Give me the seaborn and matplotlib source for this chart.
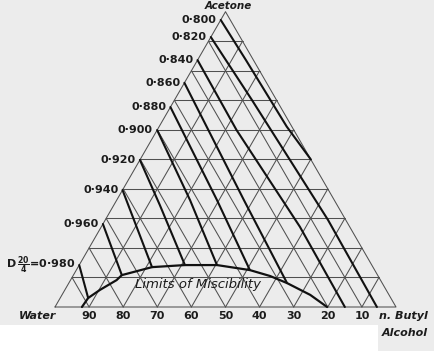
import numpy as np
import pandas as pd
import seaborn as sns
import matplotlib.pyplot as plt
from matplotlib.patches import Rectangle

density_labels = ['0·800', '0·820', '0·840', '0·860', '0·880',
                  '0·900', '0·920', '0·940', '0·960', '0·980']
line_800 = [(97.2, 0.0), (83.6, 14.2), (61.1, 37.4), (50.0, 50.0)]
line_820 = [(91.4, 0.0), (70.1, 22.7), (29.5, 65.3), (0.0, 94.4)]
line_840 = [(83.6, 0.0), (59.9, 23.3), (27.2, 58.2), (0.0, 85.0)]
line_860 = [(75.9, 0.0), (36.2, 37.3), (8.1, 64.0)]
line_880 = [(67.7, 0.0), (36.2, 29.4), (12.5, 50.9)]
line_900 = [(59.9, 0.0), (36.2, 21.5), (14.2, 40.4)]
line_920 = [(49.8, 0.0), (34.5, 13.5), (14.2, 31.0)]
line_940 = [(39.6, 0.0), (13.5, 21.7)]
line_960 = [(28.1, 0.0), (10.8, 14.2)]
line_980 = [(14.2, 0.0), (3.05, 8.2)]
density_lines = [line_800, line_820, line_840, line_860, line_880,
                 line_900, line_920, line_940, line_960, line_980]

# limits of miscibility (acetone %, n-butyl alcohol %)
misc_acetone = [0.0, 3.05, 5.8, 9.1, 10.8, 13.5, 14.2, 14.2, 12.5, 10.5, 8.1, 4.1, 0.0]
misc_butanol = [7.9, 8.2, 10.3, 13.5, 14.2, 21.7, 31.0, 40.4, 50.9, 57.8, 64.0, 72.8, 79.8]

water_ticks = [90, 80, 70, 60, 50, 40, 30, 20, 10]
grid_steps = [10, 20, 30, 40, 50, 60, 70, 80, 90]

H = np.sqrt(3) / 2


def to_xy(acetone, butanol):
    acetone = np.asarray(acetone, dtype=float)
    butanol = np.asarray(butanol, dtype=float)
    return butanol + acetone / 2, acetone * H


sns.set_style("white")
plt.rcParams['font.family'] = ['DejaVu Sans']
paper = '#ececec'
ink = '#1c1c1c'

fig = plt.figure(figsize=(4.35, 3.51), dpi=100, facecolor=paper)
fig.add_artist(Rectangle((0, 0), 378 / 435, 26 / 351, transform=fig.transFigure,
                         facecolor='white', edgecolor='none', zorder=0))
ax = fig.add_axes([0, 0, 1, 1])
ax.patch.set_visible(False)

# triangle grid, 10 % steps
gc, gw = '#505050', 0.75
for k in grid_steps:
    x, y = to_xy([k, k], [0, 100 - k])          # acetone = const
    ax.plot(x, y, color=gc, lw=gw)
    x, y = to_xy([0, 100 - k], [k, k])          # butanol = const
    ax.plot(x, y, color=gc, lw=gw)
    x, y = to_xy([0, 100 - k], [100 - k, 0])    # water = const
    ax.plot(x, y, color=gc, lw=gw)
x, y = to_xy([0, 0, 100, 0], [0, 100, 0, 0])
ax.plot(x, y, color=gc, lw=gw)

# density lines
rows = []
for lab, pts in zip(density_labels, density_lines):
    x, y = to_xy([p[0] for p in pts], [p[1] for p in pts])
    for i in range(len(x)):
        rows.append({'density': lab, 'order': i, 'x': x[i], 'y': y[i]})
df = pd.DataFrame(rows)
sns.lineplot(data=df, x='x', y='y', units='density', estimator=None, sort=False,
             color='#111111', lw=1.5, ax=ax, legend=False)

mx, my = to_xy(misc_acetone, misc_butanol)
misc = pd.DataFrame({'x': mx, 'y': my})
sns.lineplot(data=misc, x='x', y='y', sort=False, estimator=None,
             color='#111111', lw=1.6, ax=ax)

# labels
for lab, pts in zip(density_labels, density_lines):
    x0, y0 = to_xy(pts[0][0], pts[0][1])
    txt = lab
    if lab == '0·980':
        txt = r'$\mathbf{D}\,\frac{\mathbf{20}}{\mathbf{4}}$=' + lab
    ax.annotate(txt, xy=(x0, y0), xytext=(-3, 0), textcoords='offset points',
                ha='right', va='center', fontsize=8, fontweight='bold', color=ink)

for t in water_ticks:
    ax.annotate(str(t), xy=(100 - t, 0), xytext=(0, -6.5), textcoords='offset points',
                ha='center', va='center', fontsize=8, fontweight='bold', color=ink)

ax.annotate('Water', xy=(0.3, 0), xytext=(0, -6.5), textcoords='offset points',
            ha='right', va='center', fontsize=8, fontweight='bold', style='italic',
            color=ink)
ax.annotate('n. Butyl', xy=(109.4, 0), xytext=(0, -6.5), textcoords='offset points',
            ha='right', va='center', fontsize=8, fontweight='bold', style='italic',
            color=ink)
ax.annotate('Alcohol', xy=(109.4, 0), xytext=(0, -18.7), textcoords='offset points',
            ha='right', va='center', fontsize=8, fontweight='bold', style='italic',
            color=ink)
ax.text(50.7, 87.5, 'Acetone', ha='center', va='baseline', fontsize=7.5,
        fontweight='bold', style='italic', color=ink)
ax.text(41.9, 6.7, 'Limits of Miscibility', ha='center', va='center', fontsize=9.5,
        style='italic', color=ink)

ax.set_xlim(-55 / 3.41, 380 / 3.41)
ax.set_ylim(-44 / 3.41, 307 / 3.41)
ax.axis('off')

fig.savefig('out.png', dpi=100, facecolor=paper)
